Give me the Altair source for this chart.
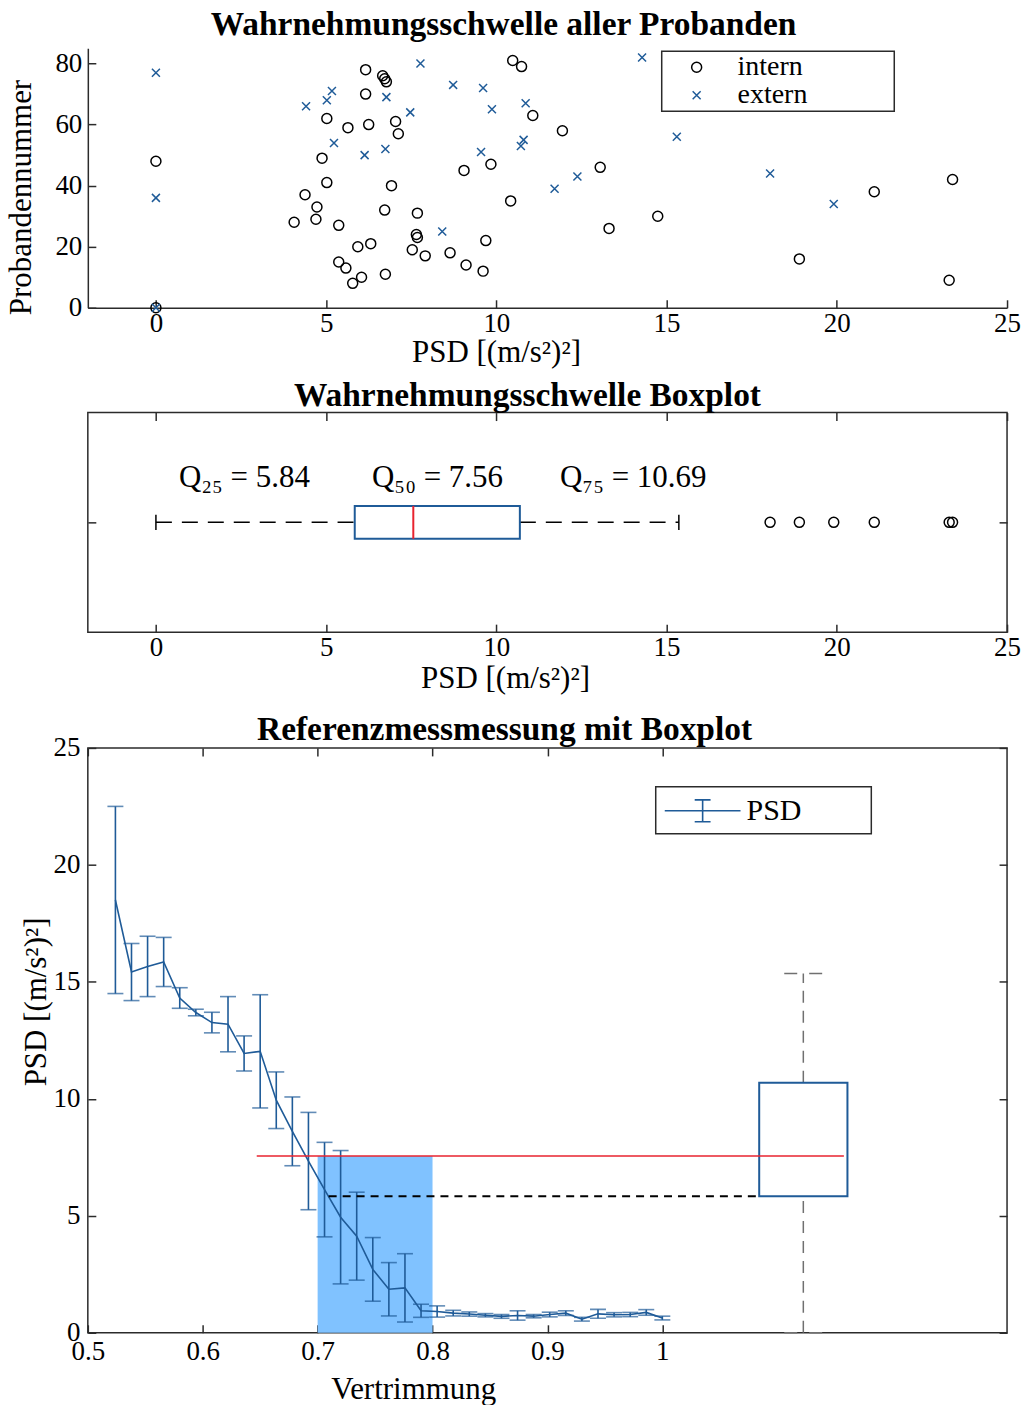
import altair as alt
import pandas as pd

FONT = "Liberation Serif"
BLUE = "#1f5b98"
RED = "#e8232f"
SHADE = "#80c2ff"
INK = "#2b2b2b"
GRAY = "#707070"
TICK = 8
LBL = 27      # tick label size
TTL = 31      # axis title size
HEAD = 33.5   # panel title size

# ---------------- data: top scatter ----------------
intern_psd = [0.0, 0.0, 4.06, 4.38, 4.73, 4.70, 4.88, 5.02, 5.02, 5.37, 5.64, 6.16, 6.16, 6.25,
              6.66, 6.72, 6.77, 5.93, 6.31, 5.37, 5.58, 6.04, 5.78, 6.74, 6.72, 6.92, 7.04, 7.12,
              10.48, 10.74, 11.07, 11.94, 13.05, 9.84, 9.05, 7.68, 7.65, 7.68, 7.53, 7.91, 8.64,
              9.69, 9.11, 9.61, 10.42, 13.31, 14.74, 21.1, 23.4, 18.9, 23.3]
intern_nr = [0, 48, 28, 37, 33, 29, 49, 41, 62, 27, 59, 78, 70, 60,
             76, 75, 74, 20, 21, 15, 13, 10, 8, 11, 32, 40, 61, 57,
             81, 79, 63, 58, 46, 47, 45, 31, 24, 23, 19, 17, 18,
             22, 14, 12, 35, 26, 30, 38, 42, 16, 9]
extern_psd = [0.0, 0.0, 0.0, 4.41, 5.02, 5.17, 5.23, 6.13, 6.74, 6.77, 7.77, 8.73, 9.61, 7.47,
              9.87, 10.86, 9.55, 10.72, 10.80, 12.38, 11.71, 8.41, 14.28, 15.30, 18.04, 19.91]
extern_nr = [77, 36, 0, 66, 68, 71, 54, 50, 52, 69, 80, 73, 72, 64,
             65, 67, 51, 53, 55, 43, 39, 25, 82, 56, 44, 34]
groups = ["intern", "extern"]

# ---------------- data: boxplot statistics ----------------
quartiles = [5.84, 7.56, 10.69]          # Q25, Q50, Q75
whisker_ends = [0.0, 15.36]
q_labels = ["Q₂₅ = 5.84", "Q₅₀ = 7.56", "Q₇₅ = 10.69"]
q_label_pos = [2.6, 8.27, 14.02]

# ---------------- data: reference measurement ----------------
trim = [0.524, 0.538, 0.552, 0.566, 0.580, 0.594, 0.608, 0.622, 0.636, 0.650, 0.664, 0.678,
        0.692, 0.706, 0.720, 0.734, 0.748, 0.762, 0.776, 0.790, 0.804, 0.818, 0.832, 0.846,
        0.860, 0.874, 0.888, 0.902, 0.916, 0.930, 0.944, 0.958, 0.972, 0.986, 1.000]
psd_mean = [18.5, 15.42, 15.66, 15.85, 14.31, 13.69, 13.26, 13.19, 11.94, 12.03, 9.94, 8.61,
            7.34, 6.12, 4.94, 4.13, 2.71, 1.86, 1.92, 0.94, 0.91, 0.84, 0.80, 0.75,
            0.70, 0.74, 0.71, 0.78, 0.84, 0.58, 0.81, 0.77, 0.78, 0.87, 0.63]
psd_err = [4.0, 1.22, 1.29, 1.05, 0.44, 0.14, 0.44, 1.18, 0.75, 2.42, 1.21, 1.47,
           2.08, 2.02, 2.85, 1.88, 1.36, 1.14, 1.46, 0.28, 0.24, 0.12, 0.09, 0.07,
           0.08, 0.20, 0.07, 0.10, 0.10, 0.08, 0.19, 0.09, 0.09, 0.12, 0.08]
shade_trim = [0.7, 0.8]
shade_psd = [0.0, 7.56]
median_line_trim = [0.647, 1.158]
q25_line_trim = [0.7096, 1.084]
BOX_X = 1.1227
BOX_HALF = 0.0384
CAP_HALF = 0.0166

W = 921


def inner_ticks(xscale, yscale, xvals, yvals, xdom, ydom, sides):
    """Invisible layers whose axes draw MATLAB-style inward ticks."""
    dummy = pd.DataFrame({"x": [xdom[0]], "y": [ydom[0]]})
    layers = []
    for xo, yo in sides:
        layers.append(
            alt.Chart(dummy).mark_point(opacity=0).encode(
                x=alt.X("x:Q", scale=xscale, axis=alt.Axis(
                    orient=xo, offset=-TICK, values=xvals, labels=False, domain=False,
                    ticks=True, tickSize=TICK, title=None, grid=False)),
                y=alt.Y("y:Q", scale=yscale, axis=alt.Axis(
                    orient=yo, offset=-TICK, values=yvals, labels=False, domain=False,
                    ticks=True, tickSize=TICK, title=None, grid=False)),
            )
        )
    return layers


# =============== TOP: scatter ===============
df_top = pd.DataFrame({
    "psd": intern_psd + extern_psd,
    "nr": intern_nr + extern_nr,
    "grp": ["intern"] * len(intern_psd) + ["extern"] * len(extern_psd),
})
xdom_top = [-2, 25]
ydom_top = [0, 85]
xs_top = alt.Scale(domain=xdom_top, nice=False, zero=False)
ys_top = alt.Scale(domain=ydom_top, nice=False, zero=False)
XPATH = "M-0.8,-0.8L0.8,0.8M-0.8,0.8L0.8,-0.8"

# the (white) legend title only widens the framed legend box to the reference size
top_legend = alt.Legend(
    orient="none", legendX=575, legendY=3, title="MMM", titleOrient="right",
    titleColor="white", titleFontSize=28, titleFont=FONT, titlePadding=5,
    strokeColor=INK, fillColor="white", padding=2, symbolOffset=19, labelOffset=27,
    labelFontSize=28, labelFont=FONT, rowPadding=0, symbolStrokeWidth=1.5,
)
scatter = alt.Chart(df_top).mark_point(filled=False, strokeWidth=1.5, size=100, opacity=1).encode(
    x=alt.X("psd:Q", scale=xs_top, axis=alt.Axis(
        values=[0, 5, 10, 15, 20, 25], title="PSD [(m/s²)²]", ticks=False, tickSize=0,
        domain=True, labelPadding=3, titlePadding=1, titleX=409, titleAnchor="middle")),
    y=alt.Y("nr:Q", scale=ys_top, axis=alt.Axis(
        values=[0, 20, 40, 60, 80], title="Probandennummer", ticks=False, tickSize=0,
        domain=True, labelPadding=6, titlePadding=17, titleY=149)),
    color=alt.Color("grp:N", scale=alt.Scale(domain=groups, range=["black", BLUE]), legend=top_legend),
    shape=alt.Shape("grp:N", scale=alt.Scale(domain=groups, range=["circle", XPATH]), legend=top_legend),
)
top = alt.layer(
    alt.layer(scatter),
    *inner_ticks(xs_top, ys_top, [0, 5, 10, 15, 20, 25], [0, 20, 40, 60, 80], xdom_top, ydom_top,
                 [("bottom", "left")]),
).resolve_axis(x="independent", y="independent").properties(
    width=W, height=260,
    title=alt.TitleParams("Wahrnehmungsschwelle aller Probanden", anchor="middle", dx=-44, offset=6),
    view=alt.ViewBackground(stroke="transparent"),
)

# =============== MIDDLE: horizontal boxplot ===============
xdom_mid = [-2, 25]
ydom_mid = [0, 2]
xs_mid = alt.Scale(domain=xdom_mid, nice=False, zero=False)
ys_mid = alt.Scale(domain=ydom_mid, nice=False, zero=False)
all_psd = intern_psd + extern_psd
outliers = sorted(v for v in all_psd if v > whisker_ends[1])

df_stats = pd.DataFrame({"q25": [quartiles[0]], "q50": [quartiles[1]], "q75": [quartiles[2]],
                         "lo": [whisker_ends[0]], "hi": [whisker_ends[1]]})
df_out = pd.DataFrame({"v": outliers})
df_qtxt = pd.DataFrame({"pos": q_label_pos, "txt": q_labels})

mid_x_axis = alt.Axis(values=[0, 5, 10, 15, 20, 25], title="PSD [(m/s²)²]", ticks=False, tickSize=0,
                      domain=False, labelPadding=2.5, titlePadding=3, titleX=418, titleAnchor="middle")
mid_y_axis = alt.Axis(values=[1], labels=False, ticks=False, tickSize=0, domain=False, title=None)

whisk_lo = alt.Chart(df_stats).mark_rule(color="black", strokeWidth=1.5, strokeDash=[16, 10]).encode(
    x=alt.X("lo:Q", scale=xs_mid, axis=mid_x_axis), x2="q25:Q",
    y=alt.Y(datum=1, scale=ys_mid, axis=mid_y_axis))
whisk_hi = alt.Chart(df_stats).mark_rule(color="black", strokeWidth=1.5, strokeDash=[16, 10]).encode(
    x=alt.X("q75:Q", scale=xs_mid), x2="hi:Q", y=alt.Y(datum=1, scale=ys_mid))
cap_lo = alt.Chart(df_stats).mark_rule(color="black", strokeWidth=1.5).encode(
    x=alt.X("lo:Q", scale=xs_mid), y=alt.Y(datum=0.93, scale=ys_mid), y2=alt.Y2(datum=1.07))
cap_hi = alt.Chart(df_stats).mark_rule(color="black", strokeWidth=1.5).encode(
    x=alt.X("hi:Q", scale=xs_mid), y=alt.Y(datum=0.93, scale=ys_mid), y2=alt.Y2(datum=1.07))
box_mid = alt.Chart(df_stats).mark_rect(fill="white", stroke=BLUE, strokeWidth=2).encode(
    x=alt.X("q25:Q", scale=xs_mid), x2="q75:Q",
    y=alt.Y(datum=0.85, scale=ys_mid), y2=alt.Y2(datum=1.15))
med_mid = alt.Chart(df_stats).mark_rule(color=RED, strokeWidth=2).encode(
    x=alt.X("q50:Q", scale=xs_mid), y=alt.Y(datum=0.85, scale=ys_mid), y2=alt.Y2(datum=1.15))
out_mid = alt.Chart(df_out).mark_point(shape="circle", filled=False, color="black", size=100,
                                        strokeWidth=1.5, opacity=1).encode(
    x=alt.X("v:Q", scale=xs_mid), y=alt.Y(datum=1, scale=ys_mid))
qtxt = alt.Chart(df_qtxt).mark_text(font=FONT, fontSize=31, color="black", baseline="middle").encode(
    x=alt.X("pos:Q", scale=xs_mid), y=alt.Y(datum=1.4, scale=ys_mid), text="txt:N")

mid = alt.layer(
    alt.layer(whisk_lo, whisk_hi, cap_lo, cap_hi, box_mid, med_mid, out_mid, qtxt),
    *inner_ticks(xs_mid, ys_mid, [0, 5, 10, 15, 20, 25], [1], xdom_mid, ydom_mid,
                 [("bottom", "left"), ("top", "right")]),
).resolve_axis(x="independent", y="independent").properties(
    width=W, height=220,
    title=alt.TitleParams("Wahrnehmungsschwelle Boxplot", anchor="middle", dx=-20, offset=-2),
    view=alt.ViewBackground(stroke=INK, strokeWidth=1.5),
)

# =============== BOTTOM: reference measurement ===============
xdom_bot = [0.5, 1.3]
ydom_bot = [0, 25]
xs_bot = alt.Scale(domain=xdom_bot, nice=False, zero=False)
ys_bot = alt.Scale(domain=ydom_bot, nice=False, zero=False)

df_ref = pd.DataFrame({"trim": trim, "m": psd_mean, "e": psd_err})
df_ref["lo"] = df_ref["m"] - df_ref["e"]
df_ref["hi"] = df_ref["m"] + df_ref["e"]
df_ref["series"] = "PSD"

df_lines = pd.DataFrame({
    "shade_a": [shade_trim[0]], "shade_b": [shade_trim[1]],
    "shade_lo": [shade_psd[0]], "shade_hi": [shade_psd[1]],
    "med_a": [median_line_trim[0]], "med_b": [median_line_trim[1]],
    "q_a": [q25_line_trim[0]], "q_b": [q25_line_trim[1]],
    "q25": [quartiles[0]], "q50": [quartiles[1]], "q75": [quartiles[2]],
    "lo": [whisker_ends[0]], "hi": [whisker_ends[1]],
})

bot_x_axis = alt.Axis(values=[0.5, 0.6, 0.7, 0.8, 0.9, 1.0], format=".1~f", title="Vertrimmung",
                      ticks=False, tickSize=0, domain=False, labelPadding=5.5, titlePadding=10,
                      titleX=326, titleAnchor="middle")
bot_y_axis = alt.Axis(values=[0, 5, 10, 15, 20, 25], title="PSD [(m/s²)²]", ticks=False, tickSize=0,
                      domain=False, labelPadding=8, titlePadding=0, titleY=254)

shade = alt.Chart(df_lines).mark_rect(color=SHADE, opacity=1).encode(
    x=alt.X("shade_a:Q", scale=xs_bot, axis=bot_x_axis), x2="shade_b:Q",
    y=alt.Y("shade_lo:Q", scale=ys_bot, axis=bot_y_axis), y2="shade_hi:Q")
err_rule = alt.Chart(df_ref).mark_rule(color=BLUE, strokeWidth=1.6).encode(
    x=alt.X("trim:Q", scale=xs_bot), y=alt.Y("lo:Q", scale=ys_bot), y2="hi:Q")
cap_top = alt.Chart(df_ref).mark_tick(color=BLUE, orient="horizontal", size=16, thickness=1.6).encode(
    x=alt.X("trim:Q", scale=xs_bot), y=alt.Y("hi:Q", scale=ys_bot))
cap_bot = alt.Chart(df_ref).mark_tick(color=BLUE, orient="horizontal", size=16, thickness=1.6).encode(
    x=alt.X("trim:Q", scale=xs_bot), y=alt.Y("lo:Q", scale=ys_bot))
bot_legend = alt.Legend(
    orient="none", legendX=569, legendY=39, title="MM", titleOrient="right",
    titleColor="white", titleFontSize=30, titleFont=FONT, titlePadding=5,
    strokeColor=INK, fillColor="white", padding=8, symbolOffset=23, labelOffset=28,
    labelFontSize=30, labelFont=FONT, symbolStrokeWidth=1.6, symbolStrokeColor=BLUE,
    symbolType="M-2.53,0L2.53,0M0,-0.73L0,0.73M-0.53,-0.73L0.53,-0.73M-0.53,0.73L0.53,0.73",
    symbolSize=900, symbolFillColor="transparent",
)
mean_line = alt.Chart(df_ref).mark_line(strokeWidth=1.6).encode(
    x=alt.X("trim:Q", scale=xs_bot), y=alt.Y("m:Q", scale=ys_bot),
    color=alt.Color("series:N", scale=alt.Scale(domain=["PSD"], range=[BLUE]), legend=bot_legend))
med_line = alt.Chart(df_lines).mark_rule(color=RED, strokeWidth=1.5).encode(
    x=alt.X("med_a:Q", scale=xs_bot), x2="med_b:Q", y=alt.Y("q50:Q", scale=ys_bot))
q25_line = alt.Chart(df_lines).mark_rule(color="black", strokeWidth=2, strokeDash=[8, 6]).encode(
    x=alt.X("q_a:Q", scale=xs_bot), x2="q_b:Q", y=alt.Y("q25:Q", scale=ys_bot))
w_up = alt.Chart(df_lines).mark_rule(color=GRAY, strokeWidth=1.5, strokeDash=[12, 8]).encode(
    x=alt.X(datum=BOX_X, scale=xs_bot), y=alt.Y("q75:Q", scale=ys_bot), y2="hi:Q")
w_dn = alt.Chart(df_lines).mark_rule(color=GRAY, strokeWidth=1.5, strokeDash=[12, 8]).encode(
    x=alt.X(datum=BOX_X, scale=xs_bot), y=alt.Y("lo:Q", scale=ys_bot), y2="q25:Q")
c_up = alt.Chart(df_lines).mark_rule(color=GRAY, strokeWidth=1.5, strokeDash=[13, 12]).encode(
    x=alt.X(datum=BOX_X - CAP_HALF, scale=xs_bot), x2=alt.X2(datum=BOX_X + CAP_HALF),
    y=alt.Y("hi:Q", scale=ys_bot))
c_dn = alt.Chart(df_lines).mark_rule(color=GRAY, strokeWidth=1.5, strokeDash=[13, 12]).encode(
    x=alt.X(datum=BOX_X - CAP_HALF, scale=xs_bot), x2=alt.X2(datum=BOX_X + CAP_HALF),
    y=alt.Y("lo:Q", scale=ys_bot))
box_bot = alt.Chart(df_lines).mark_rect(fill="white", stroke=BLUE, strokeWidth=2).encode(
    x=alt.X(datum=BOX_X - BOX_HALF, scale=xs_bot), x2=alt.X2(datum=BOX_X + BOX_HALF),
    y=alt.Y("q25:Q", scale=ys_bot), y2="q75:Q")

bot = alt.layer(
    alt.layer(shade, err_rule, cap_top, cap_bot, mean_line, w_up, w_dn, c_up, c_dn,
              box_bot, med_line, q25_line),
    *inner_ticks(xs_bot, ys_bot, [0.5, 0.6, 0.7, 0.8, 0.9, 1.0], [0, 5, 10, 15, 20, 25],
                 xdom_bot, ydom_bot, [("bottom", "left"), ("top", "right")]),
).resolve_axis(x="independent", y="independent").properties(
    width=W, height=586,
    title=alt.TitleParams("Referenzmessmessung mit Boxplot", anchor="middle", dx=-43, offset=-14),
    view=alt.ViewBackground(stroke=INK, strokeWidth=1.5),
)

upper = alt.vconcat(top, mid, spacing=10).resolve_scale(color="independent", shape="independent")
chart = alt.vconcat(upper, bot, spacing=17).resolve_scale(
    color="independent", shape="independent"
).properties(
    padding={"left": 5, "top": 6, "right": 8, "bottom": 2}
).configure_axis(
    labelFont=FONT, titleFont=FONT, labelFontSize=LBL, titleFontSize=TTL, titleFontWeight="normal",
    labelColor="black", titleColor="black", grid=False, tickColor=INK, tickWidth=1.5,
    domainColor=INK, domainWidth=1.5, labelFlush=False,
).configure_title(
    font=FONT, fontSize=HEAD, fontWeight="bold", color="black",
).configure_legend(
    labelFont=FONT, labelColor="black", cornerRadius=0, strokeWidth=1.5,
).configure_view(stroke=INK)

chart.save("out.html", embed_options={"renderer": "svg", "actions": False})
